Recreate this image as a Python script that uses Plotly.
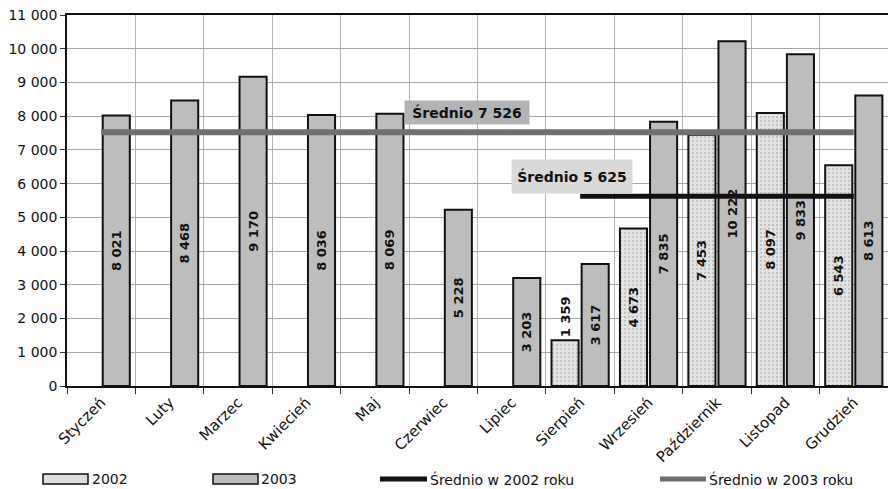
import plotly.graph_objects as go

# Monthly values
months = ["Styczeń", "Luty", "Marzec", "Kwiecień", "Maj", "Czerwiec",
          "Lipiec", "Sierpień", "Wrzesień", "Październik", "Listopad", "Grudzień"]
values_2002 = [None, None, None, None, None, None, None, 1359, 4673, 7453, 8097, 6543]
values_2003 = [8021, 8468, 9170, 8036, 8069, 5228, 3203, 3617, 7835, 10222, 9833, 8613]
y_ticks = list(range(0, 11001, 1000))

# Averages over the months that have data
present_2002 = [(m, v) for m, v in zip(months, values_2002) if v is not None]
avg_2002 = sum(v for _, v in present_2002) / len(present_2002)
avg_2003 = sum(values_2003) / len(values_2003)


def fmt(v):
    return f"{v:,.0f}".replace(",", " ")


FONT = "DejaVu Sans, Arial, sans-serif"
W, H = 888, 489
L, R, T, B = 67, 0, 15, 103
PW, PH = W - L - R, H - T - B


def px(x):
    return (x - L) / PW


def py(y):
    return (H - B - y) / PH


fig = go.Figure()

fig.add_trace(go.Bar(
    name="2002", x=months, y=values_2002,
    marker=dict(color="#e2e2e2", line=dict(color="#111", width=2),
                pattern=dict(shape=".", fgcolor="#9a9a9a", bgcolor="#e4e4e4",
                             size=4, solidity=0.25)),
    texttemplate="%{y:,.0f}", textangle=-90,
    textposition=["outside" if (v is not None and v < 2000) else "inside" for v in values_2002],
    insidetextanchor="middle", constraintext="none", cliponaxis=False,
    textfont=dict(family=FONT, size=13, color="#111", weight="bold"),
    showlegend=False,
))
fig.add_trace(go.Bar(
    name="2003", x=months, y=values_2003,
    marker=dict(color="#bdbdbd", line=dict(color="#111", width=2)),
    texttemplate="%{y:,.0f}", textangle=-90, textposition="inside",
    insidetextanchor="middle", constraintext="none",
    textfont=dict(family=FONT, size=13, color="#111", weight="bold"),
    showlegend=False,
))
fig.add_trace(go.Scatter(
    name="Średnio w 2003 roku", x=months, y=[avg_2003] * len(months),
    mode="lines", line=dict(color="#707070", width=6), showlegend=False,
))
fig.add_trace(go.Scatter(
    name="Średnio w 2002 roku", x=[m for m, _ in present_2002],
    y=[avg_2002] * len(present_2002),
    mode="lines", line=dict(color="#111", width=5), showlegend=False,
))

# Average value labels
fig.add_annotation(x=5.35, y=8120, xref="x", yref="y", text=f"<b>Średnio {fmt(avg_2003)}</b>",
                   showarrow=False, bgcolor="#b3b3b3", width=122, height=21,
                   font=dict(family=FONT, size=14, color="#111"))
fig.add_annotation(x=6.88, y=6200, xref="x", yref="y", text=f"<b>Średnio {fmt(avg_2002)}</b>",
                   showarrow=False, bgcolor="#d9d9d9", width=118, height=31,
                   font=dict(family=FONT, size=14, color="#111"))

# Legend row
legend_y = 479
shapes = [
    dict(type="rect", xref="paper", yref="paper", x0=px(43), x1=px(88),
         y0=py(legend_y + 5), y1=py(legend_y - 5), fillcolor="#dedede",
         line=dict(color="#111", width=1.5)),
    dict(type="rect", xref="paper", yref="paper", x0=px(213), x1=px(258),
         y0=py(legend_y + 5), y1=py(legend_y - 5), fillcolor="#bdbdbd",
         line=dict(color="#111", width=1.5)),
    dict(type="line", xref="paper", yref="paper", x0=px(380), x1=px(427),
         y0=py(legend_y), y1=py(legend_y), line=dict(color="#111", width=5)),
    dict(type="line", xref="paper", yref="paper", x0=px(660), x1=px(706),
         y0=py(legend_y), y1=py(legend_y), line=dict(color="#707070", width=5)),
]
for lx, label in [(91, "2002"), (260, "2003"), (429, "Średnio w 2002 roku"),
                  (708, "Średnio w 2003 roku")]:
    fig.add_annotation(x=px(lx), y=py(legend_y), xref="paper", yref="paper",
                       xanchor="left", yanchor="middle", showarrow=False, text=label,
                       borderpad=0, font=dict(family=FONT, size=14, color="#111"))

fig.update_layout(
    width=W, height=H,
    margin=dict(l=L, r=R, t=T, b=B),
    paper_bgcolor="white", plot_bgcolor="white",
    barmode="group", bargap=0.12, bargroupgap=0.1,
    separators=", ",
    shapes=shapes,
    font=dict(family=FONT, size=14, color="#111"),
    showlegend=False,
)
fig.update_xaxes(
    type="category", tickson="boundaries", ticks="outside", ticklen=6,
    tickcolor="#333", tickangle=-45, showgrid=True, gridcolor="#b4b4b4", gridwidth=1,
    showline=True, linecolor="#111", linewidth=1.5, mirror=True,
    tickfont=dict(family=FONT, size=15, color="#111"),
)
fig.update_yaxes(
    range=[0, 11000], tickvals=y_ticks, tickformat=",.0f", ticks="outside", ticklen=5,
    tickcolor="#333", showgrid=True, gridcolor="#a8a8a8", gridwidth=1,
    showline=True, linecolor="#111", linewidth=1.5, zeroline=False,
    tickfont=dict(family=FONT, size=14, color="#111"),
)

fig.write_html("out.html")
